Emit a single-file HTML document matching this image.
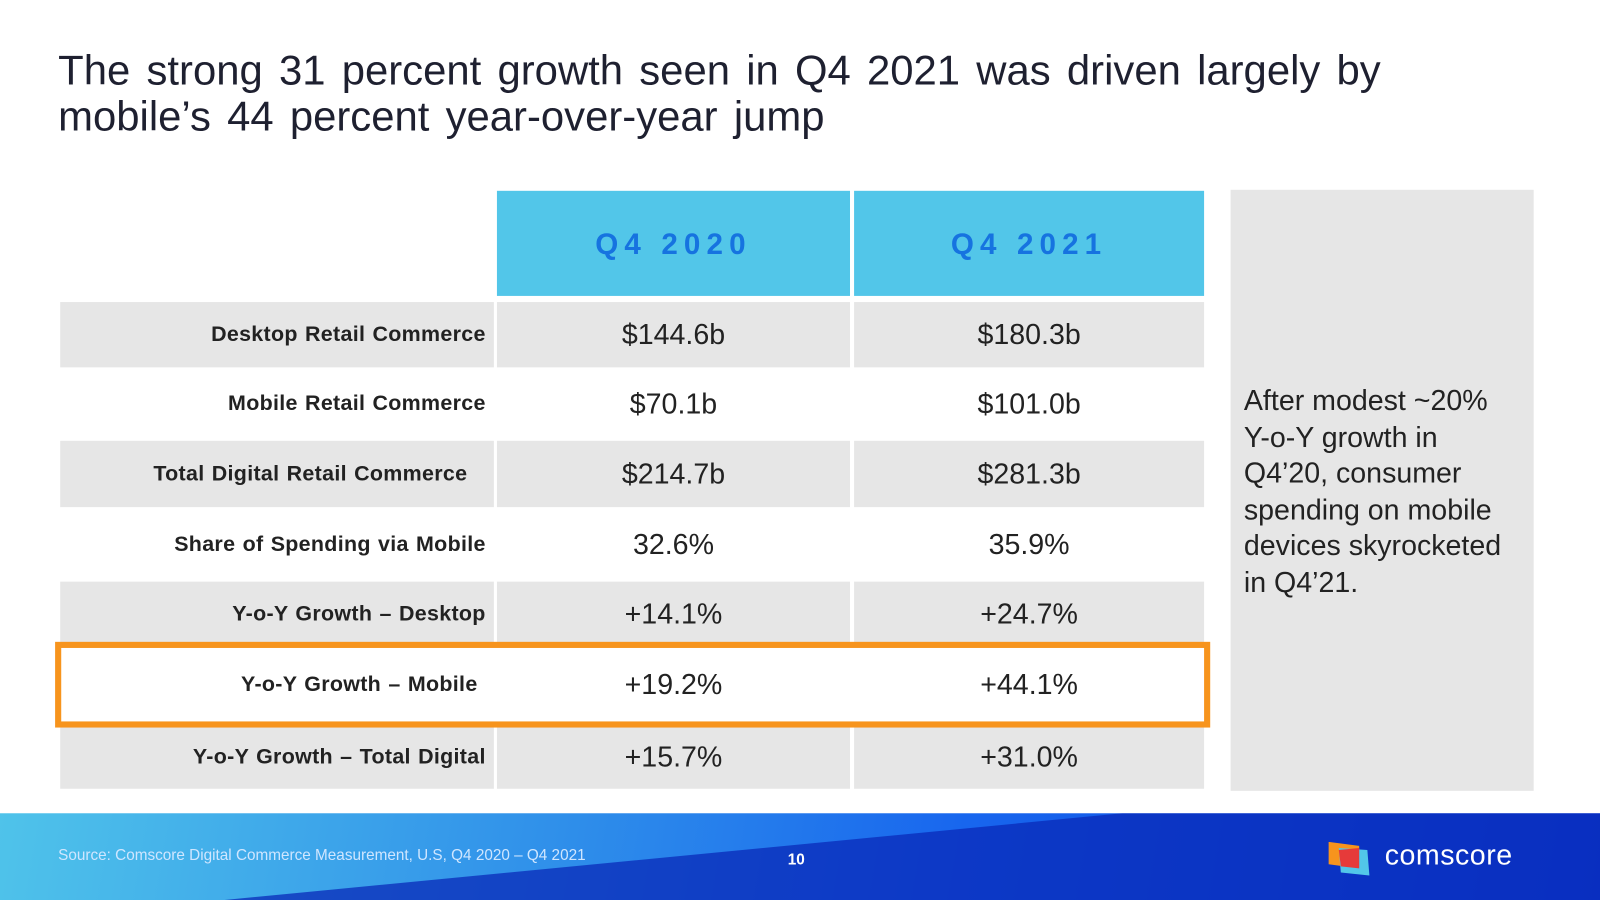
<!DOCTYPE html>
<html><head><meta charset="utf-8"><style>
html,body{margin:0;padding:0;width:1600px;height:900px;overflow:hidden;background:#fff;font-family:"Liberation Sans",Arial,sans-serif}
#w{position:absolute;left:0;top:0;width:1568px;height:882px;transform:scale(1.02041);transform-origin:0 0}
.a{position:absolute}
h1{position:absolute;left:57px;top:47px;margin:0;font-weight:normal;font-size:41px;line-height:45px;color:#1e2030;word-spacing:4.5px}
.hd{background:#52c6e9;color:#1673e0;font-weight:bold;font-size:29px;letter-spacing:6px;display:flex;align-items:center;justify-content:center;padding-top:4px;box-sizing:border-box}
.lab{display:flex;align-items:center;justify-content:flex-end;padding-right:8px;box-sizing:border-box;font-weight:bold;font-size:21px;letter-spacing:0.3px;word-spacing:1px;color:#222}
.val{display:flex;align-items:center;justify-content:center;font-size:28px;color:#222}
.g{background:#e6e6e6}
</style></head><body><div id="w">
<h1>The strong 31 percent growth seen in Q4 2021 was driven largely by<br>mobile’s 44 percent year-over-year jump</h1>
<div class="a hd" style="left:487px;top:187px;width:346px;height:103px">Q4 2020</div>
<div class="a hd" style="left:837px;top:187px;width:343px;height:103px">Q4 2021</div>
<div id="rows"></div>
<div class="a" style="left:54px;top:629px;width:1120px;height:72px;border:6px solid #f7941d"></div>
<div class="a g" style="left:1206px;top:186px;width:297px;height:589px"></div>
<div class="a" style="left:1219px;top:375px;width:268px;font-size:28px;line-height:35.5px;color:#222">After modest ~20% Y-o-Y growth in Q4’20, consumer spending on mobile devices skyrocketed in Q4’21.</div>
<div class="a" style="left:0;top:797px;width:1568px;height:85px;background:linear-gradient(100deg,#4fc3ea 0%,#2f8fea 35%,#1866ee 60%,#0a3fd8 100%)"></div>
<svg class="a" style="left:0;top:797px" width="1568" height="85"><polygon points="220,85 1100,0 1568,0 1568,85" fill="#0a2ab8" opacity="0.75"/></svg>
<div class="a" style="left:57px;top:830px;font-size:15px;color:#cfe6ff">Source: Comscore Digital Commerce Measurement, U.S, Q4 2020 – Q4 2021</div>
<div class="a" style="left:772px;top:834px;font-size:15px;font-weight:bold;color:#fff">10</div>
<svg class="a" style="left:1302px;top:825px" width="42" height="34"><polygon points="0,0 30,4 30,26 0,22" fill="#f7941d"/><polygon points="10,6 38,8 40,33 12,30" fill="#52c6e9"/><polygon points="10,8 30,6 30,26 12,24" fill="#e63a3a"/></svg>
<div class="a" style="left:1357px;top:822px;font-size:28px;letter-spacing:0.5px;color:#fff">comscore</div>
</div>
<script>
const labels=["Desktop Retail Commerce","Mobile Retail Commerce","Total Digital Retail Commerce","Share of Spending via Mobile","Y-o-Y Growth – Desktop","Y-o-Y Growth – Mobile","Y-o-Y Growth – Total Digital"];
const q42020=["$144.6b","$70.1b","$214.7b","32.6%","+14.1%","+19.2%","+15.7%"];
const q42021=["$180.3b","$101.0b","$281.3b","35.9%","+24.7%","+44.1%","+31.0%"];
const tops=[296,364,432,501,570,638,710],hs=[64,64,65,65,64,66,63];
const pads=[8,8,26,8,8,16,8];
const c=document.getElementById('rows');
labels.forEach((l,i)=>{
 const g=i%2===0&&i!==5?' g':'';
 const mk=(cls,x,w,t,name)=>{const d=document.createElement('div');d.className='a '+cls+g;d.style.cssText=`left:${x}px;top:${tops[i]}px;width:${w}px;height:${hs[i]}px`;d.textContent=t;
 
 
 c.appendChild(d);return d;};
 const L=mk('lab',59,425,l,'row-label');L.style.paddingRight=pads[i]+'px';
 mk('val',487,346,q42020[i],'value-q4-2020');
 mk('val',837,343,q42021[i],'value-q4-2021');
});
</script>
</body></html>
